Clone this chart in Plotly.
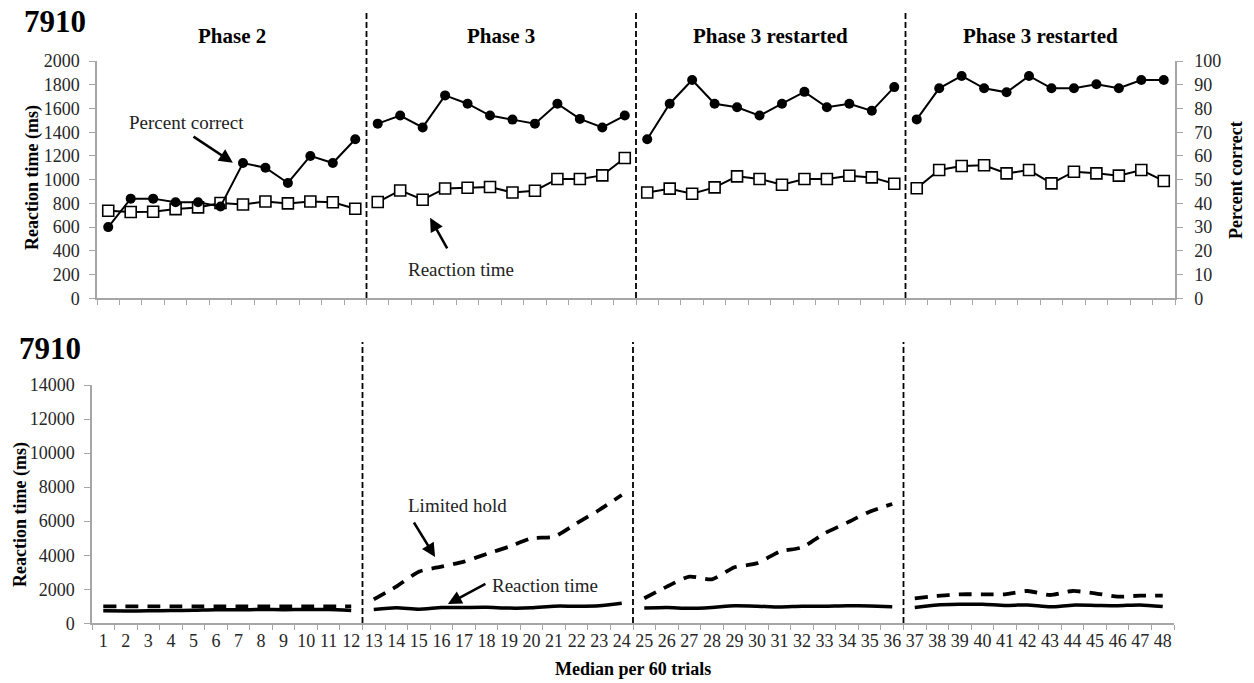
import plotly.graph_objects as go

# ---------------- data ----------------
trials = [str(i) for i in range(1, 49)]
phase_titles = ["Phase 2", "Phase 3", "Phase 3 restarted", "Phase 3 restarted"]
subject = "7910"

percent_correct = [30, 42, 42, 40.5, 40.5, 38.7, 57, 55, 48.6, 60, 57, 67,
                   73.6, 77, 72, 85.5, 82, 77, 75.3, 73.6, 82, 75.6, 72, 77,
                   67, 82, 92, 82, 80.5, 77, 82, 87, 80.5, 82, 79, 89,
                   75.4, 88.5, 93.7, 88.5, 86.8, 93.7, 88.5, 88.5, 90.2, 88.5, 92, 92]

reaction_time = [738, 727, 730, 752, 766, 803, 790, 816, 800, 816, 810, 755,
                 811, 909, 831, 926, 932, 938, 892, 907, 1006, 1006, 1036, 1183,
                 892, 924, 881, 935, 1028, 1006, 957, 1006, 1006, 1033, 1019, 966,
                 927, 1081, 1115, 1121, 1053, 1081, 969, 1067, 1053, 1034, 1081, 989]

limited_hold = [1000, 1000, 1000, 1000, 1000, 1000, 1000, 1000, 1000, 1000, 1000, 1000,
                1410, 2154, 3035, 3329, 3622, 4073, 4503, 4993, 5091, 5874, 6657, 7538,
                1469, 2154, 2741, 2585, 3289, 3524, 4210, 4464, 5287, 5913, 6559, 7010,
                1469, 1606, 1703, 1703, 1703, 1899, 1664, 1899, 1762, 1566, 1625, 1625]

rt_ticks = [0, 200, 400, 600, 800, 1000, 1200, 1400, 1600, 1800, 2000]
pc_ticks = [0, 10, 20, 30, 40, 50, 60, 70, 80, 90, 100]
lh_ticks = [0, 2000, 4000, 6000, 8000, 10000, 12000, 14000]

phase_len = 12
# ---------------- figure ----------------
W, H = 1254, 683
FONT = "Liberation Serif"
AX = "#a6a6a6"
TXT = "#262626"

def px(x):
    return x / W

def py(y):
    return 1 - y / H

fig = go.Figure()

n_phases = len(trials) // phase_len
for p in range(n_phases):
    s = slice(p * phase_len, (p + 1) * phase_len)
    xs = trials[s]
    # top panel
    fig.add_trace(go.Scatter(x=xs, y=reaction_time[s], mode="lines+markers",
                             line=dict(color="black", width=2),
                             marker=dict(symbol="square", size=11, color="white",
                                         line=dict(color="black", width=1.6)),
                             xaxis="x", yaxis="y", showlegend=False, cliponaxis=False))
    fig.add_trace(go.Scatter(x=xs, y=percent_correct[s], mode="lines+markers",
                             line=dict(color="black", width=2),
                             marker=dict(symbol="circle", size=10, color="black"),
                             xaxis="x", yaxis="y2", showlegend=False, cliponaxis=False))
    # bottom panel
    fig.add_trace(go.Scatter(x=xs, y=limited_hold[s], mode="lines",
                             line=dict(color="black", width=3.8, dash="13px,9px",
                                       shape="spline", smoothing=0.6),
                             xaxis="x2", yaxis="y3", showlegend=False))
    fig.add_trace(go.Scatter(x=xs, y=reaction_time[s], mode="lines",
                             line=dict(color="black", width=3.5,
                                       shape="spline", smoothing=0.6),
                             xaxis="x2", yaxis="y3", showlegend=False))

# vertical dashed separators
for b in range(1, n_phases):
    xb = b * phase_len - 0.5
    fig.add_shape(type="line", xref="x", yref="paper", x0=xb, x1=xb,
                  y0=py(298), y1=py(12),
                  line=dict(color="black", width=1.8, dash="6px,3px"))
    fig.add_shape(type="line", xref="x2", yref="paper", x0=xb, x1=xb,
                  y0=py(623), y1=py(342),
                  line=dict(color="black", width=1.8, dash="6px,3px"))

tick_font = dict(family=FONT, size=18, color=TXT)
title_font = dict(family=FONT, size=18, color="black")

fig.update_layout(
    width=W, height=H,
    margin=dict(l=0, r=0, t=0, b=0, autoexpand=False),
    paper_bgcolor="white", plot_bgcolor="white",
    xaxis=dict(domain=[px(97), px(1175)], type="category", categoryorder="array",
               categoryarray=trials, range=[-0.5, 47.5], tickson="boundaries",
               showticklabels=False, ticks="outside", ticklen=5, tickcolor=AX,
               showline=True, linecolor=AX, linewidth=1.5, showgrid=False,
               zeroline=False, anchor="y", automargin=False),
    yaxis=dict(domain=[py(298.3), py(61)], range=[0, 2000], tickvals=rt_ticks,
               tickformat="d",
               ticks="outside", ticklen=6, tickcolor=AX, showline=True,
               linecolor=AX, linewidth=1.5, showgrid=False, zeroline=False,
               tickfont=tick_font, ticklabelstandoff=6, anchor="x", automargin=False),
    yaxis2=dict(overlaying="y", side="right", range=[0, 100], tickvals=pc_ticks,
                ticks="outside", ticklen=6, tickcolor=AX, showline=True,
                linecolor=AX, linewidth=1.5, showgrid=False, zeroline=False,
                tickfont=tick_font, ticklabelstandoff=8, anchor="x", automargin=False),
    xaxis2=dict(domain=[px(92), px(1174)], type="category", categoryorder="array",
                categoryarray=trials, range=[-0.5, 47.5], tickson="boundaries",
                tickangle=0,
                ticks="outside", ticklen=5, tickcolor=AX, showline=True,
                linecolor=AX, linewidth=1.5, showgrid=False, zeroline=False,
                tickfont=tick_font, anchor="y3", automargin=False),
    yaxis3=dict(domain=[py(623.3), py(385)], range=[0, 14000], tickvals=lh_ticks,
                tickformat="d",
                ticks="outside", ticklen=6, tickcolor=AX, showline=True,
                linecolor=AX, linewidth=1.5, showgrid=False, zeroline=False,
                tickfont=tick_font, ticklabelstandoff=6, anchor="x2", automargin=False),
)

ann = []
C = dict(xanchor="center", yanchor="middle", showarrow=False)
P = dict(xref="paper", yref="paper")
# subject labels
ann.append(dict(text="<b>" + subject + "</b>", x=px(55), y=py(22),
                font=dict(family=FONT, size=31, color="black"), **P, **C))
ann.append(dict(text="<b>" + subject + "</b>", x=px(50), y=py(348),
                font=dict(family=FONT, size=31, color="black"), **P, **C))
# axis titles
ann.append(dict(text="<b>Reaction time (ms)</b>", x=px(32), y=py(178), textangle=-90,
                font=title_font, **P, **C))
ann.append(dict(text="<b>Reaction time (ms)</b>", x=px(20), y=py(515), textangle=-90,
                font=title_font, **P, **C))
ann.append(dict(text="<b>Percent correct</b>", x=px(1236), y=py(180), textangle=-90,
                font=title_font, **P, **C))
ann.append(dict(text="<b>Median per 60 trials</b>", x=px(633), y=py(669),
                font=title_font, **P, **C))
# phase titles centered over each block
for p, t in enumerate(phase_titles):
    ann.append(dict(text="<b>" + t + "</b>", xref="x", yref="paper",
                    x=p * phase_len + (phase_len - 1) / 2, y=py(36),
                    font=dict(family=FONT, size=21, color="black"), **C))

lab_font = dict(family=FONT, size=19, color="#222222")
ARW = dict(text="", showarrow=True, arrowhead=2, arrowsize=1.1,
           arrowwidth=2.5, arrowcolor="black")
# top panel labels + arrows
ann.append(dict(text="Percent correct", xref="x", yref="y", x=3.5, y=1481,
                font=lab_font, **C))
ann.append(dict(xref="x", yref="y", x=5.55, y=1143, axref="x", ayref="y",
                ax=3.73, ay=1371, **ARW))
ann.append(dict(text="Reaction time", xref="x", yref="y", x=15.7, y=239,
                font=lab_font, **C))
ann.append(dict(xref="x", yref="y", x=14.33, y=679, axref="x", ayref="y",
                ax=15.13, ay=408, **ARW))
# bottom panel labels + arrows
ann.append(dict(text="Limited hold", xref="x2", yref="y3", x=15.7, y=6950,
                font=lab_font, **C))
ann.append(dict(xref="x2", yref="y3", x=14.72, y=3895, axref="x2", ayref="y3",
                ax=13.74, ay=6010, **ARW))
ann.append(dict(text="Reaction time", xref="x2", yref="y3", x=19.6, y=2250,
                font=lab_font, **C))
ann.append(dict(xref="x2", yref="y3", x=15.29, y=1134, axref="x2", ayref="y3",
                ax=17.02, ay=2367, **ARW))

fig.update_layout(annotations=ann)

fig.write_html("out.html", config={"displayModeBar": False},
               post_script="document.body.style.margin='0px';document.body.style.overflow='hidden';")
